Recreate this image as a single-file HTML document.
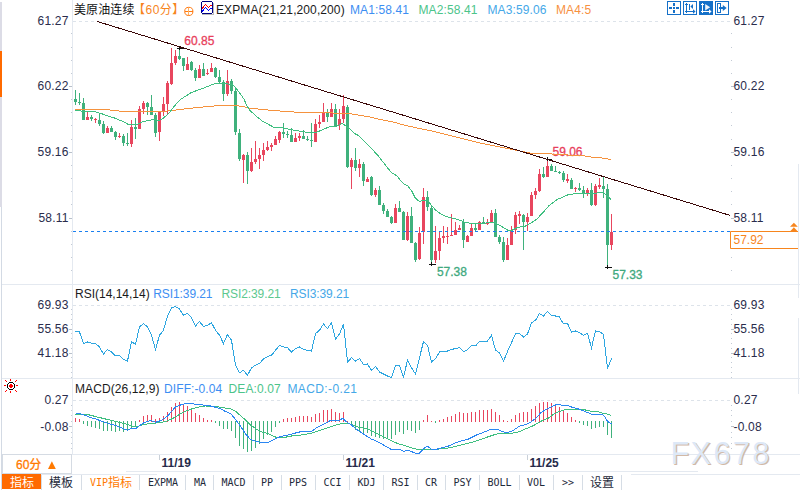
<!DOCTYPE html>
<html><head><meta charset="utf-8"><style>
html,body{margin:0;padding:0;background:#fff;overflow:hidden}
svg{display:block}
</style></head><body>
<svg width="800" height="490" viewBox="0 0 800 490">
<rect x="0" y="0" width="800" height="490" fill="#fff"/>
<rect x="0" y="2" width="2" height="205" fill="#dcdce6"/><rect x="1" y="207" width="1" height="283" fill="#d3dae4"/>
<rect x="0" y="51" width="2" height="46" fill="#ff6a00"/>
<g fill="#e4e9f0" shape-rendering="crispEdges">
<rect x="72" y="0" width="1" height="454"/>
<rect x="2" y="284" width="798" height="1"/>
<rect x="2" y="378" width="798" height="1"/>
<rect x="2" y="454" width="798" height="1"/>
<rect x="798" y="164" width="1" height="134"/><rect x="798" y="318" width="1" height="76"/>
<rect x="126" y="471" width="572" height="1"/>
<rect x="2" y="474" width="155" height="1"/>
<rect x="631" y="474" width="169" height="1"/>
</g>
<g stroke="#dde3ea" stroke-width="1" stroke-dasharray="3,3" shape-rendering="crispEdges">
<line x1="73" y1="21.5" x2="730" y2="21.5"/>
<line x1="73" y1="305.5" x2="730" y2="305.5"/>
<line x1="73" y1="400.5" x2="730" y2="400.5"/>
</g>
<g fill="#c3cad4" shape-rendering="crispEdges">
<rect x="71" y="33" width="1" height="1"/><rect x="731" y="33" width="1" height="1"/>
<rect x="71" y="47" width="1" height="1"/><rect x="731" y="47" width="1" height="1"/>
<rect x="71" y="60" width="1" height="1"/><rect x="731" y="60" width="1" height="1"/>
<rect x="71" y="73" width="1" height="1"/><rect x="731" y="73" width="1" height="1"/>
<rect x="71" y="99" width="1" height="1"/><rect x="731" y="99" width="1" height="1"/>
<rect x="71" y="112" width="1" height="1"/><rect x="731" y="112" width="1" height="1"/>
<rect x="71" y="125" width="1" height="1"/><rect x="731" y="125" width="1" height="1"/>
<rect x="71" y="139" width="1" height="1"/><rect x="731" y="139" width="1" height="1"/>
<rect x="71" y="165" width="1" height="1"/><rect x="731" y="165" width="1" height="1"/>
<rect x="71" y="178" width="1" height="1"/><rect x="731" y="178" width="1" height="1"/>
<rect x="71" y="191" width="1" height="1"/><rect x="731" y="191" width="1" height="1"/>
<rect x="71" y="204" width="1" height="1"/><rect x="731" y="204" width="1" height="1"/>
<rect x="71" y="231" width="1" height="1"/><rect x="731" y="231" width="1" height="1"/>
<rect x="71" y="244" width="1" height="1"/><rect x="731" y="244" width="1" height="1"/>
<rect x="71" y="257" width="1" height="1"/><rect x="731" y="257" width="1" height="1"/>
<rect x="71" y="270" width="1" height="1"/><rect x="731" y="270" width="1" height="1"/>
<rect x="71" y="309" width="1" height="1"/><rect x="731" y="309" width="1" height="1"/>
<rect x="71" y="314" width="1" height="1"/><rect x="731" y="314" width="1" height="1"/>
<rect x="71" y="319" width="1" height="1"/><rect x="731" y="319" width="1" height="1"/>
<rect x="71" y="324" width="1" height="1"/><rect x="731" y="324" width="1" height="1"/>
<rect x="71" y="333" width="1" height="1"/><rect x="731" y="333" width="1" height="1"/>
<rect x="71" y="338" width="1" height="1"/><rect x="731" y="338" width="1" height="1"/>
<rect x="71" y="343" width="1" height="1"/><rect x="731" y="343" width="1" height="1"/>
<rect x="71" y="348" width="1" height="1"/><rect x="731" y="348" width="1" height="1"/>
<rect x="71" y="357" width="1" height="1"/><rect x="731" y="357" width="1" height="1"/>
<rect x="71" y="362" width="1" height="1"/><rect x="731" y="362" width="1" height="1"/>
<rect x="71" y="367" width="1" height="1"/><rect x="731" y="367" width="1" height="1"/>
<rect x="71" y="372" width="1" height="1"/><rect x="731" y="372" width="1" height="1"/>
<rect x="71" y="377" width="1" height="1"/><rect x="731" y="377" width="1" height="1"/>
<rect x="71" y="405" width="1" height="1"/><rect x="731" y="405" width="1" height="1"/>
<rect x="71" y="410" width="1" height="1"/><rect x="731" y="410" width="1" height="1"/>
<rect x="71" y="415" width="1" height="1"/><rect x="731" y="415" width="1" height="1"/>
<rect x="71" y="421" width="1" height="1"/><rect x="731" y="421" width="1" height="1"/>
<rect x="71" y="432" width="1" height="1"/><rect x="731" y="432" width="1" height="1"/>
<rect x="71" y="437" width="1" height="1"/><rect x="731" y="437" width="1" height="1"/>
<rect x="71" y="443" width="1" height="1"/><rect x="731" y="443" width="1" height="1"/>
<rect x="71" y="448" width="1" height="1"/><rect x="731" y="448" width="1" height="1"/>
</g>
<g fill="#b8c0ca" shape-rendering="crispEdges">
<rect x="69" y="86" width="3" height="1"/><rect x="731" y="86" width="3" height="1"/>
<rect x="69" y="152" width="3" height="1"/><rect x="731" y="152" width="3" height="1"/>
<rect x="69" y="218" width="3" height="1"/><rect x="731" y="218" width="3" height="1"/>
<rect x="69" y="329" width="3" height="1"/><rect x="731" y="329" width="3" height="1"/>
<rect x="69" y="353" width="3" height="1"/><rect x="731" y="353" width="3" height="1"/>
<rect x="69" y="426" width="3" height="1"/><rect x="731" y="426" width="3" height="1"/>
</g>
<g font-family="'Liberation Sans', Arial, sans-serif" font-size="12" fill="#2a2c4c" letter-spacing="0.2">
<text x="68.6" y="25" text-anchor="end">61.27</text>
<text x="733.5" y="25">61.27</text>
<text x="68.6" y="90" text-anchor="end">60.22</text>
<text x="733.5" y="90">60.22</text>
<text x="68.6" y="156" text-anchor="end">59.16</text>
<text x="733.5" y="156">59.16</text>
<text x="68.6" y="222" text-anchor="end">58.11</text>
<text x="733.5" y="222">58.11</text>
<text x="68.6" y="309" text-anchor="end">69.93</text>
<text x="733.5" y="309">69.93</text>
<text x="68.6" y="333" text-anchor="end">55.56</text>
<text x="733.5" y="333">55.56</text>
<text x="68.6" y="357" text-anchor="end">41.18</text>
<text x="733.5" y="357">41.18</text>
<text x="68.6" y="404" text-anchor="end">0.27</text>
<text x="733.5" y="404">0.27</text>
<text x="68.6" y="431" text-anchor="end">-0.08</text>
<text x="733.5" y="431">-0.08</text>
</g>
<g shape-rendering="crispEdges">
<rect x="75.0" y="90.0" width="1" height="15.0" fill="#3fb17c"/>
<rect x="74.0" y="99.0" width="3" height="2.9" fill="#3fb17c"/>
<rect x="79.0" y="93.1" width="1" height="11.9" fill="#3fb17c"/>
<rect x="78.0" y="101.6" width="3" height="1.2" fill="#3fb17c"/>
<rect x="83.0" y="98.1" width="1" height="21.9" fill="#3fb17c"/>
<rect x="82.0" y="102.9" width="3" height="16.8" fill="#3fb17c"/>
<rect x="87.0" y="111.9" width="1" height="7.8" fill="#e8465e"/>
<rect x="86.0" y="116.9" width="3" height="2.8" fill="#e8465e"/>
<rect x="91.0" y="115.2" width="1" height="5.8" fill="#3fb17c"/>
<rect x="90.0" y="116.9" width="3" height="2.1" fill="#3fb17c"/>
<rect x="95.0" y="118.1" width="1" height="4.7" fill="#e8465e"/>
<rect x="94.0" y="119.0" width="3" height="1.0" fill="#e8465e"/>
<rect x="99.0" y="113.1" width="1" height="12.5" fill="#3fb17c"/>
<rect x="98.0" y="120.0" width="3" height="4.0" fill="#3fb17c"/>
<rect x="103.0" y="121.0" width="1" height="12.5" fill="#3fb17c"/>
<rect x="102.0" y="124.0" width="3" height="8.5" fill="#3fb17c"/>
<rect x="107.0" y="126.0" width="1" height="6.5" fill="#e8465e"/>
<rect x="106.0" y="127.5" width="3" height="5.0" fill="#e8465e"/>
<rect x="111.0" y="126.0" width="1" height="5.9" fill="#3fb17c"/>
<rect x="110.0" y="128.0" width="3" height="3.5" fill="#3fb17c"/>
<rect x="115.0" y="131.0" width="1" height="8.8" fill="#3fb17c"/>
<rect x="114.0" y="131.9" width="3" height="4.6" fill="#3fb17c"/>
<rect x="119.0" y="132.8" width="1" height="5.0" fill="#e8465e"/>
<rect x="118.0" y="135.6" width="3" height="1.3" fill="#e8465e"/>
<rect x="123.0" y="134.0" width="1" height="12.0" fill="#3fb17c"/>
<rect x="122.0" y="135.6" width="3" height="7.5" fill="#3fb17c"/>
<rect x="127.0" y="132.8" width="1" height="13.2" fill="#3fb17c"/>
<rect x="126.0" y="142.8" width="3" height="1.0" fill="#3fb17c"/>
<rect x="131.0" y="120.0" width="1" height="26.9" fill="#e8465e"/>
<rect x="130.0" y="126.9" width="3" height="16.8" fill="#e8465e"/>
<rect x="135.0" y="118.1" width="1" height="20.7" fill="#3fb17c"/>
<rect x="134.0" y="127.0" width="3" height="1.8" fill="#3fb17c"/>
<rect x="139.0" y="106.0" width="1" height="22.8" fill="#e8465e"/>
<rect x="138.0" y="109.0" width="3" height="19.8" fill="#e8465e"/>
<rect x="143.0" y="101.0" width="1" height="12.8" fill="#e8465e"/>
<rect x="142.0" y="103.1" width="3" height="5.9" fill="#e8465e"/>
<rect x="147.0" y="101.9" width="1" height="13.1" fill="#3fb17c"/>
<rect x="146.0" y="102.8" width="3" height="4.2" fill="#3fb17c"/>
<rect x="151.0" y="95.0" width="1" height="20.0" fill="#3fb17c"/>
<rect x="150.0" y="106.9" width="3" height="7.8" fill="#3fb17c"/>
<rect x="155.0" y="112.8" width="1" height="23.8" fill="#3fb17c"/>
<rect x="154.0" y="115.0" width="3" height="17.5" fill="#3fb17c"/>
<rect x="159.0" y="111.2" width="1" height="29.8" fill="#e8465e"/>
<rect x="158.0" y="111.9" width="3" height="20.0" fill="#e8465e"/>
<rect x="163.0" y="96.9" width="1" height="19.1" fill="#e8465e"/>
<rect x="162.0" y="103.8" width="3" height="8.2" fill="#e8465e"/>
<rect x="167.0" y="81.0" width="1" height="34.0" fill="#e8465e"/>
<rect x="166.0" y="82.8" width="3" height="21.0" fill="#e8465e"/>
<rect x="171.0" y="48.1" width="1" height="36.4" fill="#e8465e"/>
<rect x="170.0" y="63.1" width="3" height="20.6" fill="#e8465e"/>
<rect x="175.0" y="50.0" width="1" height="14.8" fill="#e8465e"/>
<rect x="174.0" y="56.0" width="3" height="7.1" fill="#e8465e"/>
<rect x="179.0" y="48.1" width="1" height="11.6" fill="#3fb17c"/>
<rect x="178.0" y="56.0" width="3" height="2.5" fill="#3fb17c"/>
<rect x="183.0" y="57.5" width="1" height="13.1" fill="#3fb17c"/>
<rect x="182.0" y="57.8" width="3" height="7.8" fill="#3fb17c"/>
<rect x="187.0" y="56.9" width="1" height="13.1" fill="#e8465e"/>
<rect x="186.0" y="64.4" width="3" height="5.3" fill="#e8465e"/>
<rect x="191.0" y="61.2" width="1" height="9.3" fill="#3fb17c"/>
<rect x="190.0" y="61.9" width="3" height="8.1" fill="#3fb17c"/>
<rect x="195.0" y="68.1" width="1" height="12.5" fill="#3fb17c"/>
<rect x="194.0" y="70.0" width="3" height="8.1" fill="#3fb17c"/>
<rect x="199.0" y="65.0" width="1" height="12.5" fill="#e8465e"/>
<rect x="198.0" y="69.0" width="3" height="8.5" fill="#e8465e"/>
<rect x="203.0" y="63.1" width="1" height="12.5" fill="#3fb17c"/>
<rect x="202.0" y="69.0" width="3" height="6.6" fill="#3fb17c"/>
<rect x="207.0" y="69.0" width="1" height="5.8" fill="#e8465e"/>
<rect x="206.0" y="72.8" width="3" height="1.0" fill="#e8465e"/>
<rect x="211.0" y="63.1" width="1" height="8.8" fill="#e8465e"/>
<rect x="210.0" y="68.1" width="3" height="3.4" fill="#e8465e"/>
<rect x="215.0" y="66.9" width="1" height="10.6" fill="#3fb17c"/>
<rect x="214.0" y="67.5" width="3" height="9.4" fill="#3fb17c"/>
<rect x="219.0" y="70.0" width="1" height="12.5" fill="#3fb17c"/>
<rect x="218.0" y="76.9" width="3" height="5.0" fill="#3fb17c"/>
<rect x="223.0" y="80.0" width="1" height="20.6" fill="#3fb17c"/>
<rect x="222.0" y="81.9" width="3" height="11.8" fill="#3fb17c"/>
<rect x="227.0" y="70.0" width="1" height="25.6" fill="#e8465e"/>
<rect x="226.0" y="81.2" width="3" height="12.8" fill="#e8465e"/>
<rect x="231.0" y="79.0" width="1" height="14.5" fill="#3fb17c"/>
<rect x="230.0" y="80.6" width="3" height="10.0" fill="#3fb17c"/>
<rect x="235.0" y="89.4" width="1" height="45.3" fill="#3fb17c"/>
<rect x="234.0" y="90.6" width="3" height="41.7" fill="#3fb17c"/>
<rect x="239.0" y="129.0" width="1" height="31.6" fill="#3fb17c"/>
<rect x="238.0" y="133.1" width="3" height="25.7" fill="#3fb17c"/>
<rect x="243.0" y="154.0" width="1" height="28.8" fill="#e8465e"/>
<rect x="242.0" y="154.8" width="3" height="5.0" fill="#e8465e"/>
<rect x="247.0" y="151.9" width="1" height="31.8" fill="#3fb17c"/>
<rect x="246.0" y="155.0" width="3" height="16.0" fill="#3fb17c"/>
<rect x="251.0" y="148.1" width="1" height="23.8" fill="#e8465e"/>
<rect x="250.0" y="161.9" width="3" height="9.3" fill="#e8465e"/>
<rect x="255.0" y="141.0" width="1" height="22.8" fill="#e8465e"/>
<rect x="254.0" y="159.0" width="3" height="2.9" fill="#e8465e"/>
<rect x="259.0" y="148.1" width="1" height="20.7" fill="#e8465e"/>
<rect x="258.0" y="155.0" width="3" height="3.8" fill="#e8465e"/>
<rect x="263.0" y="143.1" width="1" height="17.9" fill="#e8465e"/>
<rect x="262.0" y="150.0" width="3" height="4.8" fill="#e8465e"/>
<rect x="267.0" y="141.0" width="1" height="9.6" fill="#e8465e"/>
<rect x="266.0" y="146.9" width="3" height="2.8" fill="#e8465e"/>
<rect x="271.0" y="143.1" width="1" height="7.9" fill="#e8465e"/>
<rect x="270.0" y="144.8" width="3" height="2.2" fill="#e8465e"/>
<rect x="275.0" y="136.2" width="1" height="8.8" fill="#e8465e"/>
<rect x="274.0" y="139.0" width="3" height="5.8" fill="#e8465e"/>
<rect x="279.0" y="131.2" width="1" height="11.3" fill="#e8465e"/>
<rect x="278.0" y="131.9" width="3" height="7.8" fill="#e8465e"/>
<rect x="283.0" y="123.1" width="1" height="14.7" fill="#3fb17c"/>
<rect x="282.0" y="131.9" width="3" height="1.8" fill="#3fb17c"/>
<rect x="287.0" y="131.2" width="1" height="6.5" fill="#3fb17c"/>
<rect x="286.0" y="133.8" width="3" height="1.0" fill="#3fb17c"/>
<rect x="291.0" y="128.1" width="1" height="13.4" fill="#3fb17c"/>
<rect x="290.0" y="135.0" width="3" height="6.5" fill="#3fb17c"/>
<rect x="295.0" y="133.1" width="1" height="8.4" fill="#e8465e"/>
<rect x="294.0" y="137.8" width="3" height="3.8" fill="#e8465e"/>
<rect x="299.0" y="133.1" width="1" height="7.9" fill="#e8465e"/>
<rect x="298.0" y="136.0" width="3" height="1.8" fill="#e8465e"/>
<rect x="303.0" y="130.2" width="1" height="8.5" fill="#3fb17c"/>
<rect x="302.0" y="136.0" width="3" height="2.5" fill="#3fb17c"/>
<rect x="307.0" y="136.2" width="1" height="5.2" fill="#3fb17c"/>
<rect x="306.0" y="139.0" width="3" height="1.0" fill="#3fb17c"/>
<rect x="311.0" y="123.1" width="1" height="23.8" fill="#3fb17c"/>
<rect x="310.0" y="139.8" width="3" height="1.0" fill="#3fb17c"/>
<rect x="315.0" y="119.4" width="1" height="22.1" fill="#e8465e"/>
<rect x="314.0" y="124.0" width="3" height="17.5" fill="#e8465e"/>
<rect x="319.0" y="115.0" width="1" height="13.1" fill="#e8465e"/>
<rect x="318.0" y="121.9" width="3" height="1.8" fill="#e8465e"/>
<rect x="323.0" y="103.1" width="1" height="18.8" fill="#e8465e"/>
<rect x="322.0" y="113.1" width="3" height="8.4" fill="#e8465e"/>
<rect x="327.0" y="109.4" width="1" height="12.1" fill="#3fb17c"/>
<rect x="326.0" y="112.5" width="3" height="4.0" fill="#3fb17c"/>
<rect x="331.0" y="103.1" width="1" height="13.4" fill="#e8465e"/>
<rect x="330.0" y="109.4" width="3" height="7.1" fill="#e8465e"/>
<rect x="335.0" y="104.2" width="1" height="23.2" fill="#3fb17c"/>
<rect x="334.0" y="109.2" width="3" height="17.4" fill="#3fb17c"/>
<rect x="339.0" y="109.2" width="1" height="20.5" fill="#e8465e"/>
<rect x="338.0" y="119.0" width="3" height="5.9" fill="#e8465e"/>
<rect x="343.0" y="95.4" width="1" height="27.3" fill="#e8465e"/>
<rect x="342.0" y="106.0" width="3" height="13.0" fill="#e8465e"/>
<rect x="347.0" y="105.0" width="1" height="62.8" fill="#3fb17c"/>
<rect x="346.0" y="107.0" width="3" height="59.5" fill="#3fb17c"/>
<rect x="351.0" y="158.1" width="1" height="30.7" fill="#e8465e"/>
<rect x="350.0" y="160.0" width="3" height="6.5" fill="#e8465e"/>
<rect x="355.0" y="148.1" width="1" height="22.5" fill="#3fb17c"/>
<rect x="354.0" y="160.0" width="3" height="7.5" fill="#3fb17c"/>
<rect x="359.0" y="159.0" width="1" height="17.9" fill="#e8465e"/>
<rect x="358.0" y="164.0" width="3" height="3.8" fill="#e8465e"/>
<rect x="363.0" y="162.2" width="1" height="23.3" fill="#3fb17c"/>
<rect x="362.0" y="164.0" width="3" height="16.6" fill="#3fb17c"/>
<rect x="367.0" y="176.9" width="1" height="5.0" fill="#e8465e"/>
<rect x="366.0" y="179.0" width="3" height="2.9" fill="#e8465e"/>
<rect x="371.0" y="176.0" width="1" height="20.4" fill="#3fb17c"/>
<rect x="370.0" y="176.9" width="3" height="18.0" fill="#3fb17c"/>
<rect x="375.0" y="188.1" width="1" height="8.6" fill="#e8465e"/>
<rect x="374.0" y="190.0" width="3" height="4.8" fill="#e8465e"/>
<rect x="379.0" y="186.1" width="1" height="18.7" fill="#3fb17c"/>
<rect x="378.0" y="190.0" width="3" height="14.8" fill="#3fb17c"/>
<rect x="383.0" y="203.1" width="1" height="10.7" fill="#3fb17c"/>
<rect x="382.0" y="205.0" width="3" height="5.6" fill="#3fb17c"/>
<rect x="387.0" y="209.0" width="1" height="7.9" fill="#3fb17c"/>
<rect x="386.0" y="211.0" width="3" height="5.9" fill="#3fb17c"/>
<rect x="391.0" y="216.0" width="1" height="7.8" fill="#3fb17c"/>
<rect x="390.0" y="216.9" width="3" height="5.8" fill="#3fb17c"/>
<rect x="395.0" y="204.0" width="1" height="18.8" fill="#e8465e"/>
<rect x="394.0" y="208.1" width="3" height="14.7" fill="#e8465e"/>
<rect x="399.0" y="201.0" width="1" height="10.9" fill="#3fb17c"/>
<rect x="398.0" y="208.1" width="3" height="3.8" fill="#3fb17c"/>
<rect x="403.0" y="211.0" width="1" height="28.8" fill="#3fb17c"/>
<rect x="402.0" y="211.9" width="3" height="27.6" fill="#3fb17c"/>
<rect x="407.0" y="211.9" width="1" height="28.8" fill="#e8465e"/>
<rect x="406.0" y="216.0" width="3" height="23.5" fill="#e8465e"/>
<rect x="411.0" y="206.9" width="1" height="35.7" fill="#3fb17c"/>
<rect x="410.0" y="216.0" width="3" height="26.6" fill="#3fb17c"/>
<rect x="415.0" y="242.0" width="1" height="19.8" fill="#3fb17c"/>
<rect x="414.0" y="243.2" width="3" height="16.9" fill="#3fb17c"/>
<rect x="419.0" y="227.0" width="1" height="32.5" fill="#e8465e"/>
<rect x="418.0" y="233.2" width="3" height="26.2" fill="#e8465e"/>
<rect x="423.0" y="188.1" width="1" height="55.4" fill="#e8465e"/>
<rect x="422.0" y="196.9" width="3" height="35.4" fill="#e8465e"/>
<rect x="427.0" y="191.0" width="1" height="19.6" fill="#3fb17c"/>
<rect x="426.0" y="196.9" width="3" height="10.0" fill="#3fb17c"/>
<rect x="431.0" y="206.2" width="1" height="57.6" fill="#3fb17c"/>
<rect x="430.0" y="207.8" width="3" height="52.4" fill="#3fb17c"/>
<rect x="435.0" y="226.2" width="1" height="36.4" fill="#e8465e"/>
<rect x="434.0" y="251.0" width="3" height="8.5" fill="#e8465e"/>
<rect x="439.0" y="231.6" width="1" height="27.9" fill="#e8465e"/>
<rect x="438.0" y="238.0" width="3" height="12.5" fill="#e8465e"/>
<rect x="443.0" y="226.2" width="1" height="16.4" fill="#e8465e"/>
<rect x="442.0" y="236.3" width="3" height="1.4" fill="#e8465e"/>
<rect x="447.0" y="227.0" width="1" height="16.5" fill="#e8465e"/>
<rect x="446.0" y="235.7" width="3" height="1.0" fill="#e8465e"/>
<rect x="451.0" y="214.0" width="1" height="21.6" fill="#e8465e"/>
<rect x="450.0" y="234.8" width="3" height="1.0" fill="#e8465e"/>
<rect x="455.0" y="221.9" width="1" height="12.8" fill="#e8465e"/>
<rect x="454.0" y="230.0" width="3" height="4.6" fill="#e8465e"/>
<rect x="459.0" y="224.8" width="1" height="5.2" fill="#e8465e"/>
<rect x="458.0" y="227.7" width="3" height="1.9" fill="#e8465e"/>
<rect x="463.0" y="219.0" width="1" height="28.6" fill="#3fb17c"/>
<rect x="462.0" y="222.4" width="3" height="17.2" fill="#3fb17c"/>
<rect x="467.0" y="234.9" width="1" height="6.8" fill="#e8465e"/>
<rect x="466.0" y="236.2" width="3" height="5.6" fill="#e8465e"/>
<rect x="471.0" y="224.0" width="1" height="11.6" fill="#e8465e"/>
<rect x="470.0" y="227.5" width="3" height="8.1" fill="#e8465e"/>
<rect x="475.0" y="224.4" width="1" height="6.8" fill="#3fb17c"/>
<rect x="474.0" y="228.1" width="3" height="1.9" fill="#3fb17c"/>
<rect x="479.0" y="220.6" width="1" height="9.2" fill="#e8465e"/>
<rect x="478.0" y="221.9" width="3" height="7.8" fill="#e8465e"/>
<rect x="483.0" y="216.9" width="1" height="6.8" fill="#3fb17c"/>
<rect x="482.0" y="221.9" width="3" height="1.2" fill="#3fb17c"/>
<rect x="487.0" y="219.0" width="1" height="6.0" fill="#e8465e"/>
<rect x="486.0" y="221.9" width="3" height="1.6" fill="#e8465e"/>
<rect x="491.0" y="209.8" width="1" height="12.5" fill="#e8465e"/>
<rect x="490.0" y="212.8" width="3" height="9.5" fill="#e8465e"/>
<rect x="495.0" y="209.0" width="1" height="27.9" fill="#3fb17c"/>
<rect x="494.0" y="212.8" width="3" height="24.1" fill="#3fb17c"/>
<rect x="499.0" y="235.0" width="1" height="8.5" fill="#3fb17c"/>
<rect x="498.0" y="236.8" width="3" height="4.9" fill="#3fb17c"/>
<rect x="503.0" y="236.9" width="1" height="24.8" fill="#3fb17c"/>
<rect x="502.0" y="242.0" width="3" height="17.8" fill="#3fb17c"/>
<rect x="507.0" y="237.9" width="1" height="21.8" fill="#e8465e"/>
<rect x="506.0" y="245.1" width="3" height="14.7" fill="#e8465e"/>
<rect x="511.0" y="226.0" width="1" height="18.8" fill="#e8465e"/>
<rect x="510.0" y="230.7" width="3" height="14.1" fill="#e8465e"/>
<rect x="515.0" y="211.9" width="1" height="21.8" fill="#e8465e"/>
<rect x="514.0" y="215.0" width="3" height="14.8" fill="#e8465e"/>
<rect x="519.0" y="211.0" width="1" height="12.8" fill="#e8465e"/>
<rect x="518.0" y="214.0" width="3" height="1.6" fill="#e8465e"/>
<rect x="523.0" y="214.0" width="1" height="35.8" fill="#3fb17c"/>
<rect x="522.0" y="215.0" width="3" height="6.9" fill="#3fb17c"/>
<rect x="527.0" y="213.1" width="1" height="17.9" fill="#e8465e"/>
<rect x="526.0" y="216.9" width="3" height="5.0" fill="#e8465e"/>
<rect x="531.0" y="192.2" width="1" height="23.8" fill="#e8465e"/>
<rect x="530.0" y="195.0" width="3" height="20.6" fill="#e8465e"/>
<rect x="535.0" y="188.1" width="1" height="10.7" fill="#e8465e"/>
<rect x="534.0" y="191.0" width="3" height="4.0" fill="#e8465e"/>
<rect x="539.0" y="169.0" width="1" height="22.5" fill="#e8465e"/>
<rect x="538.0" y="174.0" width="3" height="17.0" fill="#e8465e"/>
<rect x="543.0" y="166.9" width="1" height="10.6" fill="#3fb17c"/>
<rect x="542.0" y="174.0" width="3" height="2.9" fill="#3fb17c"/>
<rect x="547.0" y="157.0" width="1" height="19.9" fill="#e8465e"/>
<rect x="546.0" y="166.2" width="3" height="10.7" fill="#e8465e"/>
<rect x="551.0" y="164.0" width="1" height="6.6" fill="#3fb17c"/>
<rect x="550.0" y="165.6" width="3" height="5.0" fill="#3fb17c"/>
<rect x="555.0" y="166.2" width="1" height="5.2" fill="#3fb17c"/>
<rect x="554.0" y="170.6" width="3" height="1.0" fill="#3fb17c"/>
<rect x="559.0" y="171.2" width="1" height="3.2" fill="#3fb17c"/>
<rect x="558.0" y="172.2" width="3" height="1.0" fill="#3fb17c"/>
<rect x="563.0" y="171.2" width="1" height="11.2" fill="#3fb17c"/>
<rect x="562.0" y="172.8" width="3" height="7.0" fill="#3fb17c"/>
<rect x="567.0" y="174.0" width="1" height="8.5" fill="#e8465e"/>
<rect x="566.0" y="179.0" width="3" height="1.6" fill="#e8465e"/>
<rect x="571.0" y="178.1" width="1" height="10.7" fill="#3fb17c"/>
<rect x="570.0" y="179.8" width="3" height="8.8" fill="#3fb17c"/>
<rect x="575.0" y="186.9" width="1" height="4.6" fill="#e8465e"/>
<rect x="574.0" y="187.8" width="3" height="1.0" fill="#e8465e"/>
<rect x="579.0" y="183.1" width="1" height="7.5" fill="#3fb17c"/>
<rect x="578.0" y="187.8" width="3" height="1.7" fill="#3fb17c"/>
<rect x="583.0" y="186.2" width="1" height="11.5" fill="#3fb17c"/>
<rect x="582.0" y="190.0" width="3" height="3.5" fill="#3fb17c"/>
<rect x="587.0" y="188.1" width="1" height="7.5" fill="#e8465e"/>
<rect x="586.0" y="189.8" width="3" height="3.2" fill="#e8465e"/>
<rect x="591.0" y="183.1" width="1" height="22.4" fill="#3fb17c"/>
<rect x="590.0" y="190.0" width="3" height="15.0" fill="#3fb17c"/>
<rect x="595.0" y="184.0" width="1" height="21.5" fill="#e8465e"/>
<rect x="594.0" y="186.2" width="3" height="18.8" fill="#e8465e"/>
<rect x="599.0" y="177.8" width="1" height="11.0" fill="#e8465e"/>
<rect x="598.0" y="185.2" width="3" height="1.8" fill="#e8465e"/>
<rect x="603.0" y="177.2" width="1" height="21.2" fill="#3fb17c"/>
<rect x="602.0" y="186.2" width="3" height="2.5" fill="#3fb17c"/>
<rect x="607.0" y="184.0" width="1" height="82.2" fill="#3fb17c"/>
<rect x="606.0" y="189.3" width="3" height="55.4" fill="#3fb17c"/>
<rect x="611.0" y="214.0" width="1" height="35.8" fill="#e8465e"/>
<rect x="610.0" y="231.5" width="3" height="13.2" fill="#e8465e"/>
</g>
<g fill="#111" shape-rendering="crispEdges">
<rect x="177" y="48" width="7" height="1"/><rect x="179" y="47" width="1" height="3"/>
<rect x="546" y="159" width="6" height="1"/><rect x="547" y="157" width="1" height="4"/>
<rect x="429" y="264" width="7" height="1"/><rect x="431" y="262" width="1" height="4"/>
<rect x="605" y="267" width="7" height="1"/><rect x="607" y="265" width="1" height="4"/>
</g>
<g font-family="'Liberation Sans', Arial, sans-serif" font-size="12">
<text x="184.3" y="44.5" fill="#e8405c" stroke="#e8405c" stroke-width="0.3">60.85</text>
<text x="552.5" y="156" fill="#e8405c" stroke="#e8405c" stroke-width="0.3">59.06</text>
<text x="436.9" y="276.2" fill="#40a97e" stroke="#40a97e" stroke-width="0.3">57.38</text>
<text x="612.5" y="278.8" fill="#40a97e" stroke="#40a97e" stroke-width="0.3">57.33</text>
</g>
<polyline points="75.3,109.5 109.6,109.5 111.2,110.7 121,111.1 140.6,111.6 160.2,111.6 170,110.7 178.2,109.8 186.4,108.7 196.2,107.7 210,106.25 225,105.25 235,105.25 247.5,107.5 250,108.5 257.5,109 270,110.25 286,111.5 302.5,112.5 325,112.75 348.75,113.5 357.5,115 367.5,116.5 380,119.4 392.5,121.9 405,125.25 417.5,128.1 430,130.6 480,143 520,151 530,153.1 545,153.1 555,154.4 567.5,155 580,155.25 590,156.9 600,157.75 610.6,159.4" fill="none" stroke="#f5923e" stroke-width="1" shape-rendering="crispEdges"/>
<polyline points="75.3,110.5 78,110.7 85,111.4 94,111.6 98,112.6 101,113.5 104.7,114.8 108,116 111.5,117.3 114.5,118 124.3,122.1 128.4,124.5 137.4,124.5 142.3,121.8 150.4,120.1 155.3,119.2 158.6,120.8 163.5,118 168.4,113.9 173.3,107.4 179.8,100 191.25,92.5 203.75,88.1 212.5,84.4 218.75,83.1 225,83.75 232.5,84.4 237.5,90 243.75,98.75 247.5,106.9 250,110.5 256.25,116.25 262.5,121.25 273.75,127.25 282.5,127.75 291.25,129.75 300,131.25 311.25,133.1 317.5,131.9 330,126.5 335,126.9 342.5,123.5 348.75,128.1 355,133.75 358.75,135.6 363,140 373.75,151 377.5,155 391.25,172.5 397.5,176.25 400,179.8 404,184.3 408,186 412,191.5 415,197.5 418,200.5 420,201.3 422.5,200.5 428,200.6 430,203.5 436,210.5 441,214 445,216 450,217.5 458,219.5 465,222.3 472,223.5 481.25,223.5 490,222.5 495,222.75 501.25,226.25 507.5,230 512.5,230 517.5,227.5 525,226.25 530,223.6 536.25,219.6 542.5,213.1 549,205.6 557.5,199.4 567.5,195 570,194.2 580,193.6 596.5,193.6 597.5,192.6 603.7,192.6 605.3,194.1 611,199.5" fill="none" stroke="#3fbf80" stroke-width="1" shape-rendering="crispEdges"/>
<line x1="97" y1="21.4" x2="729.7" y2="215.3" stroke="#3a0808" stroke-width="1" shape-rendering="crispEdges"/>
<line x1="73" y1="231.5" x2="730" y2="231.5" stroke="#1a80f0" stroke-width="1" stroke-dasharray="3,3" shape-rendering="crispEdges"/>
<polyline points="75.5,331 79.5,332 83.5,343.5 87.5,342 91.5,343.25 95.5,343.5 99.5,347 103.5,354 107.5,349.5 111.5,352 115.5,356 119.5,355.25 123.5,359.5 127.5,361 131.5,342 135.5,344 139.5,327 143.5,323.5 147.5,327 151.5,335.25 155.5,349.5 159.5,335.25 163.5,330.25 167.5,316 171.5,307.75 175.5,306.5 179.5,309 183.5,315.25 187.5,313.5 191.5,317.75 195.5,326 199.5,321.5 203.5,326.5 207.5,325.25 211.5,322.75 215.5,330.25 219.5,335.25 223.5,343.5 227.5,334.5 231.5,340.25 235.5,365.25 239.5,372.75 243.5,370.25 247.5,375.25 251.5,367.75 255.5,365.25 259.5,363.5 263.5,359 267.5,356.5 271.5,355.25 275.5,350.25 279.5,345.25 283.5,347 287.5,347.75 291.5,352 295.5,348.5 299.5,347 303.5,349.5 307.5,350.25 311.5,351 315.5,333.5 319.5,330.25 323.5,324 327.5,328.5 331.5,322.75 335.5,339 339.5,334 343.5,324 347.5,362 351.5,357.75 355.5,361 359.5,358.5 363.5,364.5 367.5,364 371.5,370.25 375.5,366.5 379.5,372 383.5,374 387.5,376 391.5,377.75 395.5,365.25 399.5,366 403.5,377 407.5,360.25 411.5,367.75 415.5,374 419.5,357.75 423.5,341.5 427.5,345.25 431.5,362 435.5,358.5 439.5,352 443.5,351 447.5,351 451.5,349.5 455.5,348.5 459.5,347.75 463.5,351.75 467.5,349.9 471.5,345.25 475.5,346 479.5,341.5 483.5,342 487.5,341 491.5,335.25 495.5,350.25 499.5,352.75 503.5,361 507.5,351.5 511.5,342.75 515.5,333.5 519.5,333.5 523.5,337 527.5,334 531.5,322.75 535.5,320.25 539.5,313.5 543.5,316 547.5,311.5 551.5,315.25 555.5,316 559.5,317 563.5,324 567.5,323.5 571.5,332 575.5,331 579.5,332.75 583.5,335.25 587.5,333.5 591.5,347.75 595.5,331 599.5,331.5 603.5,334.5 607.5,368.5 611.5,358.5" fill="none" stroke="#2ea6e0" stroke-width="1" shape-rendering="crispEdges"/>
<g shape-rendering="crispEdges">
<rect x="75.0" y="418.1" width="1" height="3.9" fill="#e8465e"/>
<rect x="79.0" y="419.0" width="1" height="3.0" fill="#e8465e"/>
<rect x="83.0" y="421" width="1" height="2.8" fill="#3fb17c"/>
<rect x="87.0" y="421" width="1" height="4.6" fill="#3fb17c"/>
<rect x="91.0" y="421" width="1" height="5.9" fill="#3fb17c"/>
<rect x="95.0" y="421" width="1" height="6.8" fill="#3fb17c"/>
<rect x="99.0" y="421" width="1" height="7.8" fill="#3fb17c"/>
<rect x="103.0" y="421" width="1" height="10.0" fill="#3fb17c"/>
<rect x="107.0" y="421" width="1" height="9.6" fill="#3fb17c"/>
<rect x="111.0" y="421" width="1" height="10.0" fill="#3fb17c"/>
<rect x="115.0" y="421" width="1" height="10.9" fill="#3fb17c"/>
<rect x="119.0" y="421" width="1" height="10.0" fill="#3fb17c"/>
<rect x="123.0" y="421" width="1" height="10.9" fill="#3fb17c"/>
<rect x="127.0" y="421" width="1" height="9.6" fill="#3fb17c"/>
<rect x="131.0" y="421" width="1" height="7.1" fill="#3fb17c"/>
<rect x="135.0" y="421" width="1" height="5.9" fill="#3fb17c"/>
<rect x="139.0" y="420.0" width="1" height="2.0" fill="#e8465e"/>
<rect x="143.0" y="416.0" width="1" height="6.0" fill="#e8465e"/>
<rect x="147.0" y="415.0" width="1" height="7.0" fill="#e8465e"/>
<rect x="151.0" y="415.0" width="1" height="7.0" fill="#e8465e"/>
<rect x="155.0" y="419.0" width="1" height="3.0" fill="#e8465e"/>
<rect x="159.0" y="418.1" width="1" height="3.9" fill="#e8465e"/>
<rect x="163.0" y="416.0" width="1" height="6.0" fill="#e8465e"/>
<rect x="167.0" y="411.9" width="1" height="10.1" fill="#e8465e"/>
<rect x="171.0" y="406.9" width="1" height="15.1" fill="#e8465e"/>
<rect x="175.0" y="403.1" width="1" height="18.9" fill="#e8465e"/>
<rect x="179.0" y="402.2" width="1" height="19.8" fill="#e8465e"/>
<rect x="183.0" y="404.0" width="1" height="18.0" fill="#e8465e"/>
<rect x="187.0" y="406.0" width="1" height="16.0" fill="#e8465e"/>
<rect x="191.0" y="409.0" width="1" height="13.0" fill="#e8465e"/>
<rect x="195.0" y="413.1" width="1" height="8.9" fill="#e8465e"/>
<rect x="199.0" y="415.0" width="1" height="7.0" fill="#e8465e"/>
<rect x="203.0" y="417.8" width="1" height="4.2" fill="#e8465e"/>
<rect x="207.0" y="420.0" width="1" height="2.0" fill="#e8465e"/>
<rect x="211.0" y="420.0" width="1" height="2.0" fill="#e8465e"/>
<rect x="215.0" y="421" width="1" height="1.8" fill="#3fb17c"/>
<rect x="219.0" y="421" width="1" height="4.6" fill="#3fb17c"/>
<rect x="223.0" y="421" width="1" height="7.8" fill="#3fb17c"/>
<rect x="227.0" y="421" width="1" height="7.8" fill="#3fb17c"/>
<rect x="231.0" y="421" width="1" height="9.6" fill="#3fb17c"/>
<rect x="235.0" y="421" width="1" height="16.5" fill="#3fb17c"/>
<rect x="239.0" y="421" width="1" height="24.6" fill="#3fb17c"/>
<rect x="243.0" y="421" width="1" height="27.8" fill="#3fb17c"/>
<rect x="247.0" y="421" width="1" height="30.5" fill="#3fb17c"/>
<rect x="251.0" y="421" width="1" height="29.6" fill="#3fb17c"/>
<rect x="255.0" y="421" width="1" height="26.5" fill="#3fb17c"/>
<rect x="259.0" y="421" width="1" height="23.4" fill="#3fb17c"/>
<rect x="263.0" y="421" width="1" height="18.4" fill="#3fb17c"/>
<rect x="267.0" y="421" width="1" height="14.0" fill="#3fb17c"/>
<rect x="271.0" y="421" width="1" height="10.9" fill="#3fb17c"/>
<rect x="275.0" y="421" width="1" height="5.9" fill="#3fb17c"/>
<rect x="279.0" y="421" width="1" height="1.8" fill="#3fb17c"/>
<rect x="283.0" y="419.0" width="1" height="3.0" fill="#e8465e"/>
<rect x="287.0" y="418.1" width="1" height="3.9" fill="#e8465e"/>
<rect x="291.0" y="418.1" width="1" height="3.9" fill="#e8465e"/>
<rect x="295.0" y="417.2" width="1" height="4.8" fill="#e8465e"/>
<rect x="299.0" y="416.0" width="1" height="6.0" fill="#e8465e"/>
<rect x="303.0" y="416.0" width="1" height="6.0" fill="#e8465e"/>
<rect x="307.0" y="416.0" width="1" height="6.0" fill="#e8465e"/>
<rect x="311.0" y="417.2" width="1" height="4.8" fill="#e8465e"/>
<rect x="315.0" y="414.0" width="1" height="8.0" fill="#e8465e"/>
<rect x="319.0" y="413.1" width="1" height="8.9" fill="#e8465e"/>
<rect x="323.0" y="410.0" width="1" height="12.0" fill="#e8465e"/>
<rect x="327.0" y="410.0" width="1" height="12.0" fill="#e8465e"/>
<rect x="331.0" y="409.0" width="1" height="13.0" fill="#e8465e"/>
<rect x="335.0" y="411.9" width="1" height="10.1" fill="#e8465e"/>
<rect x="339.0" y="413.1" width="1" height="8.9" fill="#e8465e"/>
<rect x="343.0" y="411.9" width="1" height="10.1" fill="#e8465e"/>
<rect x="347.0" y="421.0" width="1" height="1.0" fill="#e8465e"/>
<rect x="351.0" y="421" width="1" height="4.0" fill="#3fb17c"/>
<rect x="355.0" y="421" width="1" height="9.2" fill="#3fb17c"/>
<rect x="359.0" y="421" width="1" height="10.2" fill="#3fb17c"/>
<rect x="363.0" y="421" width="1" height="13.0" fill="#3fb17c"/>
<rect x="367.0" y="421" width="1" height="11.8" fill="#3fb17c"/>
<rect x="371.0" y="421" width="1" height="14.6" fill="#3fb17c"/>
<rect x="375.0" y="421" width="1" height="15.9" fill="#3fb17c"/>
<rect x="379.0" y="421" width="1" height="16.8" fill="#3fb17c"/>
<rect x="383.0" y="421" width="1" height="17.5" fill="#3fb17c"/>
<rect x="387.0" y="421" width="1" height="17.1" fill="#3fb17c"/>
<rect x="391.0" y="421" width="1" height="17.8" fill="#3fb17c"/>
<rect x="395.0" y="421" width="1" height="13.8" fill="#3fb17c"/>
<rect x="399.0" y="421" width="1" height="10.9" fill="#3fb17c"/>
<rect x="403.0" y="421" width="1" height="12.8" fill="#3fb17c"/>
<rect x="407.0" y="421" width="1" height="8.8" fill="#3fb17c"/>
<rect x="411.0" y="421" width="1" height="9.6" fill="#3fb17c"/>
<rect x="415.0" y="421" width="1" height="11.5" fill="#3fb17c"/>
<rect x="419.0" y="421" width="1" height="8.8" fill="#3fb17c"/>
<rect x="423.0" y="420.0" width="1" height="2.0" fill="#e8465e"/>
<rect x="427.0" y="415.0" width="1" height="7.0" fill="#e8465e"/>
<rect x="431.0" y="421.0" width="1" height="1.0" fill="#e8465e"/>
<rect x="435.0" y="421" width="1" height="1.8" fill="#3fb17c"/>
<rect x="439.0" y="420.0" width="1" height="2.0" fill="#e8465e"/>
<rect x="443.0" y="419.0" width="1" height="3.0" fill="#e8465e"/>
<rect x="447.0" y="417.2" width="1" height="4.8" fill="#e8465e"/>
<rect x="451.0" y="416.0" width="1" height="6.0" fill="#e8465e"/>
<rect x="455.0" y="414.0" width="1" height="8.0" fill="#e8465e"/>
<rect x="459.0" y="411.9" width="1" height="10.1" fill="#e8465e"/>
<rect x="463.0" y="413.1" width="1" height="8.9" fill="#e8465e"/>
<rect x="467.0" y="413.1" width="1" height="8.9" fill="#e8465e"/>
<rect x="471.0" y="411.9" width="1" height="10.1" fill="#e8465e"/>
<rect x="475.0" y="411.9" width="1" height="10.1" fill="#e8465e"/>
<rect x="479.0" y="410.0" width="1" height="12.0" fill="#e8465e"/>
<rect x="483.0" y="410.0" width="1" height="12.0" fill="#e8465e"/>
<rect x="487.0" y="410.0" width="1" height="12.0" fill="#e8465e"/>
<rect x="491.0" y="409.0" width="1" height="13.0" fill="#e8465e"/>
<rect x="495.0" y="411.9" width="1" height="10.1" fill="#e8465e"/>
<rect x="499.0" y="415.0" width="1" height="7.0" fill="#e8465e"/>
<rect x="503.0" y="420.0" width="1" height="2.0" fill="#e8465e"/>
<rect x="507.0" y="421.0" width="1" height="1.0" fill="#e8465e"/>
<rect x="511.0" y="419.0" width="1" height="3.0" fill="#e8465e"/>
<rect x="515.0" y="415.0" width="1" height="7.0" fill="#e8465e"/>
<rect x="519.0" y="413.1" width="1" height="8.9" fill="#e8465e"/>
<rect x="523.0" y="411.9" width="1" height="10.1" fill="#e8465e"/>
<rect x="527.0" y="411.9" width="1" height="10.1" fill="#e8465e"/>
<rect x="531.0" y="409.0" width="1" height="13.0" fill="#e8465e"/>
<rect x="535.0" y="406.0" width="1" height="16.0" fill="#e8465e"/>
<rect x="539.0" y="403.1" width="1" height="18.9" fill="#e8465e"/>
<rect x="543.0" y="402.2" width="1" height="19.8" fill="#e8465e"/>
<rect x="547.0" y="402.2" width="1" height="19.8" fill="#e8465e"/>
<rect x="551.0" y="403.1" width="1" height="18.9" fill="#e8465e"/>
<rect x="555.0" y="404.0" width="1" height="18.0" fill="#e8465e"/>
<rect x="559.0" y="407.2" width="1" height="14.8" fill="#e8465e"/>
<rect x="563.0" y="411.0" width="1" height="11.0" fill="#e8465e"/>
<rect x="567.0" y="413.1" width="1" height="8.9" fill="#e8465e"/>
<rect x="571.0" y="417.2" width="1" height="4.8" fill="#e8465e"/>
<rect x="575.0" y="420.0" width="1" height="2.0" fill="#e8465e"/>
<rect x="579.0" y="421" width="1" height="1.8" fill="#3fb17c"/>
<rect x="583.0" y="421" width="1" height="4.0" fill="#3fb17c"/>
<rect x="587.0" y="421" width="1" height="4.6" fill="#3fb17c"/>
<rect x="591.0" y="421" width="1" height="7.8" fill="#3fb17c"/>
<rect x="595.0" y="421" width="1" height="6.8" fill="#3fb17c"/>
<rect x="599.0" y="421" width="1" height="5.9" fill="#3fb17c"/>
<rect x="603.0" y="421" width="1" height="5.9" fill="#3fb17c"/>
<rect x="607.0" y="421" width="1" height="13.8" fill="#3fb17c"/>
<rect x="611.0" y="421" width="1" height="16.8" fill="#3fb17c"/>
</g>
<polyline points="75.5,414.4 89.5,415 97,416.9 104.5,418.75 112,420.6 119.5,422.25 127,424.4 132,426 137,426.5 142,425 149.5,423.5 159.5,422.75 167,421 172,418.75 175.5,416.9 180.5,413.75 188,410.25 193,408.5 200.5,406.5 205.5,406 215.5,406.5 223,407.75 230.5,408.75 235.5,411.25 240.5,415.6 245.5,420 250.5,425 255.5,428.5 260.5,431.5 269,434 276.5,437.5 284,437.5 291.5,436 301.5,435 311.5,433.1 319,430.6 326.5,428.1 334,425.6 341.5,423.5 346.5,423.1 351.5,424.4 359,427.25 367.5,429 375,432.5 382.5,436.25 390,440 397.5,443.5 405,445.6 412.5,448.1 420,450 427.5,449.4 435,449.4 442.5,448.75 450,447.75 456,446.25 463.5,444.4 471,442.5 478.5,440.25 486,437.5 493.5,435 498.5,433.5 511,433.5 518.5,431.9 526,428.75 533.5,425.6 541,421.25 548.5,418.1 552,415.25 557,412.5 564.5,409.75 570.75,409 579.5,409.4 584.5,409.75 589.5,411 597,411.5 602,413.1 607,414 611.4,415.6" fill="none" stroke="#3fbf80" stroke-width="1" shape-rendering="crispEdges"/>
<polyline points="75.5,413.75 80.75,413.75 84.5,415.25 90.75,417.5 97,419.4 103.25,421.9 109.5,423.75 115.75,425.6 122,428.1 127.6,430.25 130.75,428.5 135.75,428.5 139.5,425.6 143.25,423.1 147,421.5 150.75,420.6 155.75,422.25 160.75,420.6 165.75,417.5 168,415.6 171.75,411.25 175.5,406.9 180.5,405 185.5,403.5 193,403.5 195.5,404.4 201.75,404.75 205.5,405.6 210.5,406 215.5,407.25 220.5,408.75 225.5,411.5 230.5,413.5 235.5,419.4 240.5,426.25 245.5,433.75 250.5,439.4 255.5,441.25 260.5,442.25 268.4,442.25 276.5,438.1 281.5,436.25 289,434.75 296.5,432.75 301.5,431.5 311.5,431.5 316.5,427.75 324,424 330.25,420.6 339,420.6 342.75,418.1 346.5,421.9 351.5,425 356.5,429.4 365,435 371.25,439 376.25,441 382.5,444.4 391.25,449.4 400,449.4 403.75,451.5 406.25,450.25 408.75,450.25 415,453.1 419.4,453.1 423.75,448.5 427.5,446.25 431.25,449 437.5,449 442.5,447.5 447.5,446.5 455,443.1 461,441 468.5,439 476,435.25 483.5,432.25 491,429.4 497.25,429.4 502.25,431.5 507.25,432.75 512.25,431 519.75,426 526,424.4 531,421.9 536,418.1 541,412.5 546,409.4 551,406.9 557,404.4 562,405.25 568.25,405.6 572,407.25 577,408.5 582,410.25 587,412.25 592,414.4 602,414.4 604.5,416.25 607.6,421.5 611.4,423.75" fill="none" stroke="#2a86f2" stroke-width="1" shape-rendering="crispEdges"/>
<g font-family="'Liberation Sans', 'Noto Sans CJK SC', sans-serif" font-size="12" letter-spacing="0.1">
<text x="74" y="13.8" fill="#111">美原油连续</text>
<text x="133" y="13.8" fill="#f7851d" letter-spacing="0.5">【60分】</text>
<text x="216" y="13.8" fill="#1a1a1a">EXPMA(21,21,200,200)</text>
<text x="350" y="13.8" fill="#3d8ef2">MA1:58.41</text>
<text x="418.5" y="13.8" fill="#4cc48a">MA2:58.41</text>
<text x="487.5" y="13.8" fill="#45a8e8">MA3:59.06</text>
<text x="556" y="13.8" fill="#f7913f">MA4:5</text>
<text x="75" y="298" fill="#1a1a1a" letter-spacing="0">RSI(14,14,14)</text>
<text x="153.3" y="298" fill="#3d8ef2" letter-spacing="-0.1">RSI1:39.21</text>
<text x="221.5" y="298" fill="#5cc88f" letter-spacing="-0.1">RSI2:39.21</text>
<text x="290" y="298" fill="#45a8e8" letter-spacing="-0.1">RSI3:39.21</text>
<text x="75" y="393" fill="#1a1a1a">MACD(26,12,9)</text>
<text x="164" y="393" fill="#3d8ef2">DIFF:-0.04</text>
<text x="228.6" y="393" fill="#4cc48a">DEA:0.07</text>
<text x="287.4" y="393" fill="#45a8e8" letter-spacing="0.4">MACD:-0.21</text>
</g>
<circle cx="188.8" cy="11.4" r="4.1" fill="none" stroke="#ff7a10" stroke-width="1"/>
<g shape-rendering="crispEdges"><rect x="185" y="11" width="8" height="1" fill="#ff7a10"/><rect x="188" y="8" width="1" height="7" fill="#ffb060"/></g>
<g shape-rendering="crispEdges"><rect x="202" y="14" width="12" height="1" fill="#b8b8b8"/><rect x="213" y="3" width="1" height="11" fill="#b8b8b8"/><rect x="202" y="2" width="10" height="11" fill="#fff"/><rect x="202" y="1" width="10" height="1" fill="#000080"/><rect x="202" y="13" width="10" height="1" fill="#000080"/><rect x="201" y="2" width="1" height="11" fill="#000080"/><rect x="212" y="2" width="1" height="11" fill="#000080"/></g>
<polyline points="202,8.5 205.5,4.5 206.5,5.2 208.5,7.7 210,6 212,5.5" fill="none" stroke="#f00" stroke-width="1" shape-rendering="crispEdges"/>
<polyline points="202,11.5 205.5,7.5 206.5,8.2 208.5,10.5 210,9 212,8.5" fill="none" stroke="#00f" stroke-width="1" shape-rendering="crispEdges"/>
<g fill="none" stroke="#1570c8" stroke-width="1" shape-rendering="crispEdges">
<rect x="667.5" y="1.5" width="13" height="13" fill="#fff"/>
<rect x="683.5" y="1.5" width="13" height="13" fill="#fff"/>
<rect x="699.5" y="1.5" width="13" height="13" fill="#1570c8"/>
<rect x="715.5" y="1.5" width="13" height="13" fill="#fff"/>
</g>
<g fill="#1570c8" shape-rendering="crispEdges">
<rect x="673" y="3" width="2" height="3"/><rect x="673" y="10" width="2" height="3"/><rect x="669" y="7" width="3" height="2"/><rect x="676" y="7" width="3" height="2"/><rect x="673" y="7" width="2" height="2"/>
<rect x="686" y="3" width="1" height="10"/><rect x="685" y="4" width="3" height="1"/><rect x="685" y="11" width="10" height="1"/><rect x="689" y="4" width="1" height="6"/>
</g>
<polygon points="693,9.3 695.6,11.5 693,13.7" fill="#1570c8"/>
<polygon points="690.4,6.5 693,4 693,9" fill="#1570c8"/>
<g fill="#fff" shape-rendering="crispEdges"><rect x="702" y="3" width="1" height="10"/><rect x="701" y="4" width="3" height="1"/><rect x="701" y="11" width="10" height="1"/></g>
<polygon points="709,9.3 711.6,11.5 709,13.7" fill="#fff"/>
<polygon points="705.2,4 710.2,7.2 705.2,10.4" fill="#eef4fb"/>
<rect x="717.5" y="3.5" width="3" height="9" fill="none" stroke="#1570c8" stroke-width="1" shape-rendering="crispEdges"/>
<rect x="719" y="7" width="5" height="2" fill="#1570c8" shape-rendering="crispEdges"/>
<polygon points="722.8,4.9 726.7,7.9 722.8,10.9" fill="#1570c8"/>
<rect x="730" y="231" width="68" height="18" fill="#fff"/>
<path d="M798,231.5 H730.5 V248.5 H798" fill="none" stroke="#f7851d" stroke-width="1"/>
<text x="733.5" y="244.3" font-family="'Liberation Sans', Arial, sans-serif" font-size="12" fill="#f7851d">57.92</text>
<polygon points="790,226.8 797.8,226.8 793.9,222.8" fill="#f7851d"/><polygon points="790,231.5 797.8,231.5 793.9,227.3" fill="#f7851d"/>
<g shape-rendering="crispEdges"><rect x="9" y="382" width="1" height="1" fill="#000"/><rect x="9" y="389" width="1" height="1" fill="#000"/><rect x="10" y="382" width="1" height="1" fill="#000"/><rect x="10" y="389" width="1" height="1" fill="#000"/><rect x="11" y="382" width="1" height="1" fill="#000"/><rect x="11" y="389" width="1" height="1" fill="#000"/><rect x="12" y="382" width="1" height="1" fill="#000"/><rect x="12" y="389" width="1" height="1" fill="#000"/><rect x="7" y="384" width="1" height="1" fill="#000"/><rect x="14" y="384" width="1" height="1" fill="#000"/><rect x="7" y="385" width="1" height="1" fill="#000"/><rect x="14" y="385" width="1" height="1" fill="#000"/><rect x="7" y="386" width="1" height="1" fill="#000"/><rect x="14" y="386" width="1" height="1" fill="#000"/><rect x="7" y="387" width="1" height="1" fill="#000"/><rect x="14" y="387" width="1" height="1" fill="#000"/><rect x="8" y="383" width="1" height="1" fill="#000"/><rect x="13" y="383" width="1" height="1" fill="#000"/><rect x="8" y="388" width="1" height="1" fill="#000"/><rect x="13" y="388" width="1" height="1" fill="#000"/><rect x="10" y="384" width="1" height="1" fill="#f00"/><rect x="11" y="384" width="1" height="1" fill="#f00"/><rect x="10" y="387" width="1" height="1" fill="#f00"/><rect x="11" y="387" width="1" height="1" fill="#f00"/><rect x="9" y="385" width="1" height="1" fill="#f00"/><rect x="10" y="385" width="1" height="1" fill="#f00"/><rect x="11" y="385" width="1" height="1" fill="#f00"/><rect x="12" y="385" width="1" height="1" fill="#f00"/><rect x="9" y="386" width="1" height="1" fill="#f00"/><rect x="10" y="386" width="1" height="1" fill="#f00"/><rect x="11" y="386" width="1" height="1" fill="#f00"/><rect x="12" y="386" width="1" height="1" fill="#f00"/><rect x="10" y="379" width="1" height="1" fill="#f00"/><rect x="10" y="380" width="1" height="1" fill="#f00"/><rect x="10" y="391" width="1" height="1" fill="#f00"/><rect x="10" y="392" width="1" height="1" fill="#f00"/><rect x="4" y="385" width="1" height="1" fill="#f00"/><rect x="5" y="385" width="1" height="1" fill="#f00"/><rect x="16" y="385" width="1" height="1" fill="#f00"/><rect x="17" y="385" width="1" height="1" fill="#f00"/><rect x="5" y="380" width="1" height="1" fill="#f00"/><rect x="6" y="381" width="1" height="1" fill="#f00"/><rect x="16" y="380" width="1" height="1" fill="#f00"/><rect x="15" y="381" width="1" height="1" fill="#f00"/><rect x="5" y="391" width="1" height="1" fill="#f00"/><rect x="6" y="390" width="1" height="1" fill="#f00"/><rect x="16" y="391" width="1" height="1" fill="#f00"/><rect x="15" y="390" width="1" height="1" fill="#f00"/></g>
<g fill="#c9d0d8" shape-rendering="crispEdges"><rect x="159" y="455" width="1" height="5"/><rect x="343" y="455" width="1" height="5"/><rect x="527" y="455" width="1" height="5"/></g>
<g font-family="'Liberation Sans', Arial, sans-serif" font-size="12" font-weight="bold" fill="#262a4a">
<text x="161.5" y="467">11/19</text><text x="345.5" y="467">11/21</text><text x="529.4" y="467">11/25</text>
</g>
<rect x="2.5" y="454.5" width="69" height="19" fill="#fff" stroke="#d5dbe3" stroke-width="1"/>
<text x="16" y="468.5" font-family="'Liberation Sans', 'Noto Sans CJK SC', sans-serif" font-size="12" fill="#ff7a00" stroke="#ff7a00" stroke-width="0.3">60分</text>
<polygon points="48,469 55.8,469 51.9,461.2" fill="#ff7a00"/>
<rect x="2" y="474" width="39" height="15" fill="#ff6a00"/>
<g fill="#d6dde5" shape-rendering="crispEdges">
<rect x="41" y="475" width="1" height="15"/>
<rect x="81" y="475" width="1" height="15"/>
<rect x="139" y="475" width="1" height="15"/>
<rect x="185" y="475" width="1" height="15"/>
<rect x="213" y="475" width="1" height="15"/>
<rect x="253" y="475" width="1" height="15"/>
<rect x="281" y="475" width="1" height="15"/>
<rect x="315" y="475" width="1" height="15"/>
<rect x="349" y="475" width="1" height="15"/>
<rect x="383" y="475" width="1" height="15"/>
<rect x="417" y="475" width="1" height="15"/>
<rect x="445" y="475" width="1" height="15"/>
<rect x="479" y="475" width="1" height="15"/>
<rect x="519" y="475" width="1" height="15"/>
<rect x="553" y="475" width="1" height="15"/>
<rect x="582" y="475" width="1" height="15"/>
<rect x="621" y="475" width="1" height="15"/>
</g>
<g font-family="'Noto Sans CJK SC', sans-serif" font-size="12">
<text x="10" y="486.5" fill="#fff">指标</text>
<text x="49" y="486.5" fill="#1e2a3a">模板</text>
<text x="590" y="486.5" fill="#1e2a3a">设置</text>
</g>
<g font-family="'DejaVu Sans Mono', monospace" font-size="10" fill="#1e2a3a">
<text x="90" y="485.5" fill="#ff7a00">VIP</text>
<text x="148" y="485.5">EXPMA</text>
<text x="194" y="485.5">MA</text>
<text x="221.5" y="485.5">MACD</text>
<text x="261" y="485.5">PP</text>
<text x="289" y="485.5">PPS</text>
<text x="323.5" y="485.5">CCI</text>
<text x="357.5" y="485.5">KDJ</text>
<text x="391.5" y="485.5">RSI</text>
<text x="425" y="485.5">CR</text>
<text x="453.5" y="485.5">PSY</text>
<text x="487.5" y="485.5">BOLL</text>
<text x="527" y="485.5">VOL</text>
<text x="562" y="485.5">&gt;&gt;</text>
</g>
<text x="108" y="486.5" font-family="'Noto Sans CJK SC', sans-serif" font-size="12" fill="#ff7a00">指标</text>
<g font-family="'Liberation Sans', sans-serif" font-size="30.6" letter-spacing="2.4">
<text x="671.7" y="465.4" fill="#c8a890" opacity="0.8">F<tspan dx="-1">X678</tspan></text>
<text x="670.5" y="464.4" fill="#dde8f7">F<tspan dx="-1">X678</tspan></text>
</g>
</svg>
</body></html>
